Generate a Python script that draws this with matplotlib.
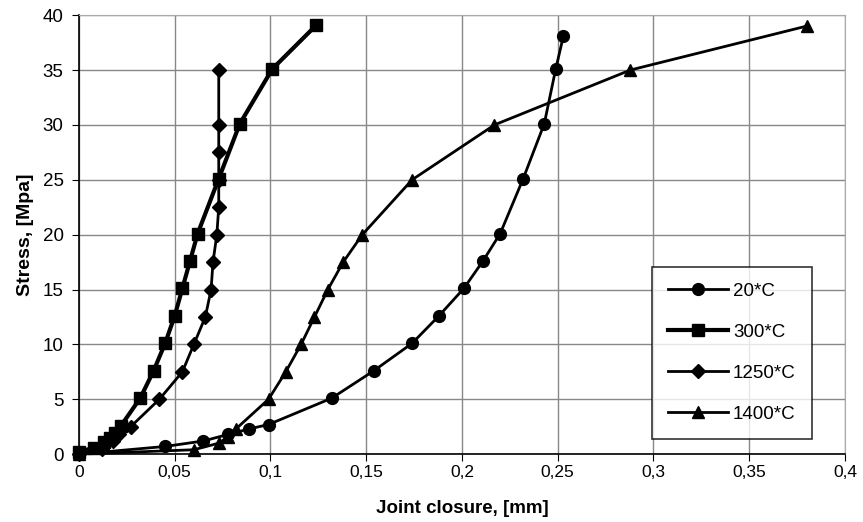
import matplotlib.pyplot as plt
from matplotlib.ticker import FuncFormatter

# 20*C (circles)
x_20 = [0, 0.045, 0.065, 0.078, 0.089, 0.099, 0.132, 0.154, 0.174, 0.188, 0.201, 0.211, 0.220, 0.232, 0.243, 0.249, 0.253]
y_20 = [0, 0.7, 1.2, 1.8, 2.3, 2.7, 5.1, 7.6, 10.1, 12.6, 15.1, 17.6, 20.1, 25.1, 30.1, 35.1, 38.1]

# 300*C (squares)
x_300 = [0, 0.008, 0.013, 0.016, 0.019, 0.022, 0.032, 0.039, 0.045, 0.050, 0.054, 0.058, 0.062, 0.073, 0.084, 0.101, 0.124]
y_300 = [0.2, 0.6, 1.1, 1.5, 1.9, 2.6, 5.1, 7.6, 10.1, 12.6, 15.1, 17.6, 20.1, 25.1, 30.1, 35.1, 39.1]

# 1250*C (diamonds)
x_1250 = [0, 0.012, 0.018, 0.021, 0.027, 0.042, 0.054, 0.060, 0.066, 0.069, 0.070, 0.072, 0.073, 0.073, 0.073, 0.073, 0.073]
y_1250 = [0, 0.5, 1.2, 1.8, 2.5, 5.0, 7.5, 10.0, 12.5, 15.0, 17.5, 20.0, 22.5, 25.0, 27.5, 30.0, 35.0]

# 1400*C (triangles)
x_1400 = [0, 0.060, 0.073, 0.078, 0.082, 0.099, 0.108, 0.116, 0.123, 0.130, 0.138, 0.148, 0.174, 0.217, 0.288, 0.380]
y_1400 = [0, 0.4, 1.0, 1.6, 2.3, 5.0, 7.5, 10.0, 12.5, 15.0, 17.5, 20.0, 25.0, 30.0, 35.0, 39.0]

xticks = [0, 0.05, 0.1, 0.15, 0.2, 0.25, 0.3, 0.35, 0.4]
yticks = [0, 5, 10, 15, 20, 25, 30, 35, 40]

plt.rcParams['font.family'] = ['Liberation Sans', 'DejaVu Sans']

fig = plt.figure(figsize=(8.63, 5.22), dpi=100)
ax = fig.add_axes([0.0915, 0.130, 0.8875, 0.841])

ax.plot(x_20, y_20, color='black', lw=2, marker='o', ms=8.5, label='20*C', clip_on=False, zorder=3)
ax.plot(x_300, y_300, color='black', lw=3, marker='s', ms=8, label='300*C', clip_on=False, zorder=3)
ax.plot(x_1250, y_1250, color='black', lw=2, marker='D', ms=7, label='1250*C', clip_on=False, zorder=3)
ax.plot(x_1400, y_1400, color='black', lw=2, marker='^', ms=9, label='1400*C', clip_on=False, zorder=3)

ax.set_xlim(0, 0.4)
ax.set_ylim(0, 40)
ax.set_xticks(xticks)
ax.set_yticks(yticks)
ax.xaxis.set_major_formatter(FuncFormatter(lambda v, p: f'{v:g}'.replace('.', ',')))
ax.tick_params(axis='both', direction='out', length=5, color='black')
ax.tick_params(axis='y', labelsize=13.5, pad=6)
ax.tick_params(axis='x', labelsize=12.5, pad=3)

ax.grid(True, color='#888888', lw=1)
ax.set_axisbelow(True)
ax.spines['top'].set_color('#aaaaaa')
ax.spines['right'].set_color('#aaaaaa')
ax.spines['left'].set_linewidth(1.2)
ax.spines['bottom'].set_linewidth(1.2)

ax.set_xlabel('Joint closure, [mm]', fontsize=13.5, fontweight='bold', labelpad=14)
ax.set_ylabel('Stress, [Mpa]', fontsize=14, fontweight='bold', labelpad=6)

leg = ax.legend(loc='center', bbox_to_anchor=(0.8525, 0.231),
                fontsize=13.5, frameon=True, fancybox=False, edgecolor='black',
                labelspacing=1.28, handlelength=3.2, borderpad=0.85, handletextpad=0.25,
                borderaxespad=0)
leg.get_frame().set_linewidth(1.2)

fig.savefig('out.png', dpi=100)
